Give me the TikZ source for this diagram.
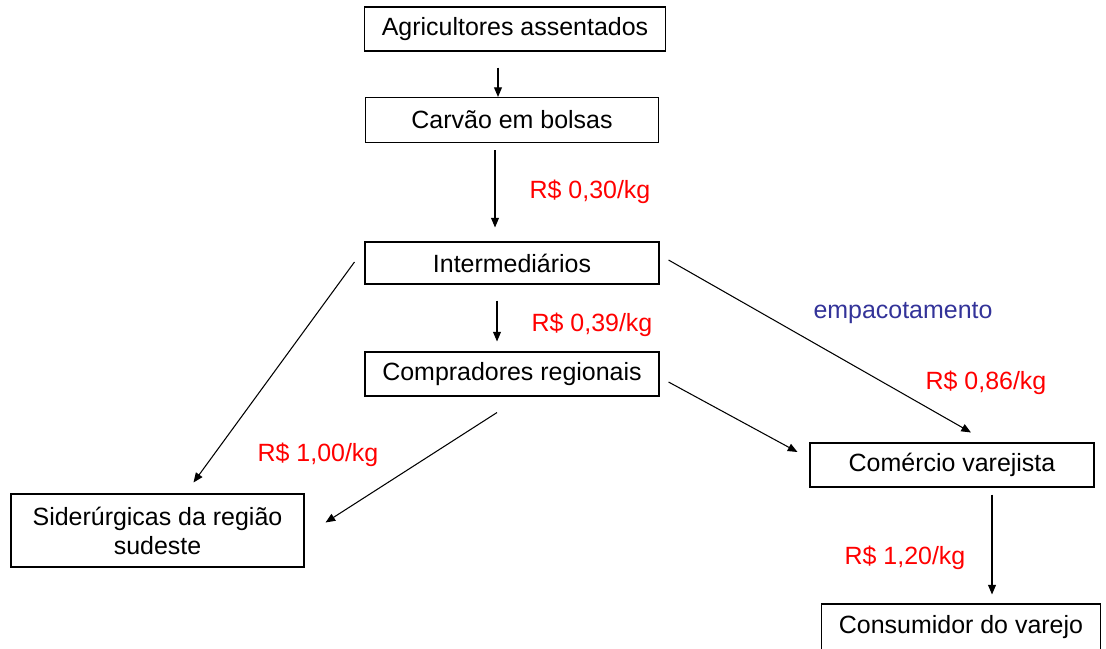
\documentclass[tikz,border=0pt]{standalone}
\usepackage{fontspec}
\setmainfont{Liberation Sans}
\usetikzlibrary{arrows.meta}
\definecolor{pricered}{RGB}{255,0,0}
\definecolor{noteblue}{RGB}{51,51,153}
\begin{document}
\begin{tikzpicture}[
    box/.style={draw, line width=0.6pt, inner sep=0pt, align=center,
                font=\fontsize{14.2}{16.5}\selectfont},
    price/.style={text=pricered, font=\fontsize{14.2}{16.5}\selectfont},
    note/.style={text=noteblue, font=\fontsize{14.2}{16.5}\selectfont},
    arr/.style={-{Triangle[length=5.5pt,width=4.5pt]}, line width=0.6pt}
]
\useasboundingbox[fill=white] (0,0) rectangle (22.12,-12.96);
\node[box, minimum width=6.02cm, minimum height=0.88cm] (agri)   at (10.30, -0.58)  {Agricultores assentados};
\node[box, minimum width=5.86cm, minimum height=0.90cm] (carvao) at (10.24, -2.40)  {Carvão em bolsas};
\node[box, minimum width=5.88cm, minimum height=0.84cm] (inter)  at (10.24, -5.26)  {Intermediários};
\node[box, minimum width=5.88cm, minimum height=0.88cm] (compr)  at (10.24, -7.48)  {Compradores regionais};
\node[box, minimum width=5.86cm, minimum height=1.46cm] (sider)  at ( 3.15, -10.61) {Siderúrgicas da região\\sudeste};
\node[box, minimum width=5.68cm, minimum height=0.88cm] (comer)  at (19.04, -9.30)  {Comércio varejista};
\node[box, minimum width=5.58cm, minimum height=0.92cm] (consum) at (19.22, -12.54) {Consumidor do varejo};

\node[price] (p030) at (11.80, -3.84)  {R\$ 0,30/kg};
\node[price] (p039) at (11.84, -6.50)  {R\$ 0,39/kg};
\node[price] (p100) at ( 6.36, -9.10)  {R\$ 1,00/kg};
\node[note]  (emp)  at (18.06, -6.26)  {empacotamento};
\node[price] (p086) at (19.72, -7.66)  {R\$ 0,86/kg};
\node[price] (p120) at (18.10, -11.16) {R\$ 1,20/kg};

\draw[arr] ([shift={(-0.34,-0.32)}]agri.south) -- ([xshift=-0.34cm]agri.south |- carvao.north);
\draw[arr] ([shift={(-0.34,-0.14)}]carvao.south) -- ([shift={(-0.34,0.28)}]carvao.south |- inter.north);
\draw[arr] ([shift={(-0.30,-0.32)}]inter.south) -- ([shift={(-0.30,0.20)}]inter.south |- compr.north);
\draw[arr] ([shift={(-0.20,0.02)}]inter.west) -- ([shift={(0.72,0.22)}]sider.north);
\draw[arr] ([shift={(-0.30,-0.32)}]compr.south) -- ([shift={(0.42,0.16)}]sider.east);
\draw[arr] ([shift={(0.18,0.06)}]inter.east) -- ([shift={(0.38,0.20)}]comer.north);
\draw[arr] ([shift={(0.18,-0.16)}]compr.east) -- ([shift={(-0.24,0.26)}]comer.west);
\draw[arr] ([shift={(0.80,-0.14)}]comer.south) -- ([shift={(0.80,0.18)}]comer.south |- consum.north);
\end{tikzpicture}
\end{document}
